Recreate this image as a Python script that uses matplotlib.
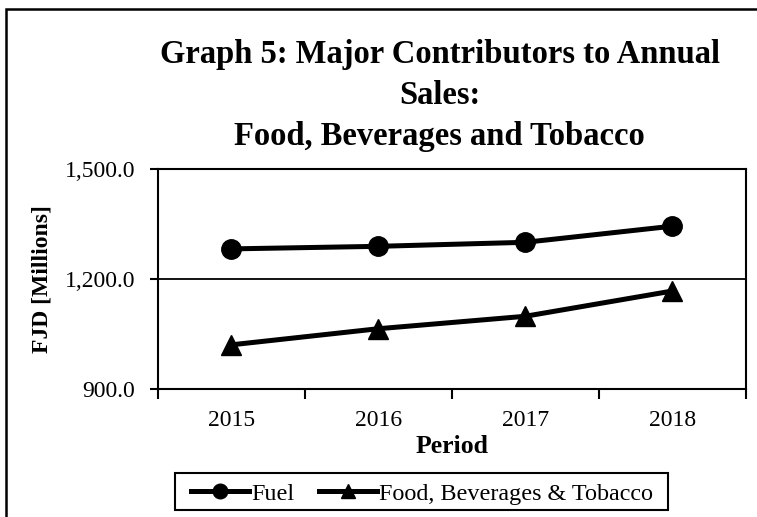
import matplotlib.pyplot as plt
from matplotlib.patches import Rectangle

# Данные
years = ['2015', '2016', '2017', '2018']
fuel = [1282, 1289, 1300, 1344]
food = [1020, 1064, 1098, 1167]

plt.rcParams['font.family'] = ['Liberation Serif', 'DejaVu Serif']

fig = plt.figure(figsize=(7.57, 5.17), dpi=100)
ax = fig.add_axes([0.2083, 0.248, 0.777, 0.425])

x = list(range(len(years)))
ax.plot(x, fuel, color='black', lw=3.6, marker='o', ms=14, label='Fuel')
ax.plot(x, food, color='black', lw=3.6, marker='^', ms=14,
        label='Food, Beverages & Tobacco')

ax.set_xlim(-0.5, len(years) - 0.5)
ax.set_ylim(900, 1500)
ax.set_yticks([900, 1200, 1500])
ax.set_yticklabels([f'{v:,.1f}' for v in [900, 1200, 1500]])
ax.axhline(1200, color='black', lw=1.3, zorder=1)

ax.set_xticks(x)
ax.set_xticklabels(years)
ax.set_xticks([i - 0.5 for i in range(len(years) + 1)], minor=True)
ax.tick_params(axis='x', which='major', length=0, pad=15, labelsize=17)
ax.tick_params(axis='x', which='minor', length=7, width=1.5, direction='out')
ax.tick_params(axis='y', length=6, width=1.5, labelsize=17, pad=10)

for s in ax.spines.values():
    s.set_linewidth(1.5)

ax.set_xlabel('Period', fontsize=18.5, fontweight='bold', labelpad=3)
ax.set_ylabel('FJD [Millions]', fontsize=17, fontweight='bold', labelpad=9)

fig.text(0.581, 0.925, 'Graph 5: Major Contributors to Annual\nSales:\nFood, Beverages and Tobacco',
         ha='center', va='top', fontsize=23.5, fontweight='bold', linespacing=1.42)

leg = fig.legend(loc='center', bbox_to_anchor=(0.5575, 0.0445), ncol=2, fontsize=17.4,
                 frameon=False, handlelength=2.4, handletextpad=0.1,
                 columnspacing=1.0, borderpad=0.25, markerscale=0.75)

# рамка легенды
fig.patches.append(Rectangle((175 / 757, 1 - 510 / 517), 493 / 757, 37 / 517,
                             transform=fig.transFigure, fill=False, edgecolor='black', lw=1.5))

# рамка вокруг графика
fig.patches.append(Rectangle((6 / 757, -0.1), 1.2, 1 - 9 / 517 + 0.1, transform=fig.transFigure,
                             fill=False, edgecolor='black', lw=1.8))

fig.savefig('out.png', dpi=100)
